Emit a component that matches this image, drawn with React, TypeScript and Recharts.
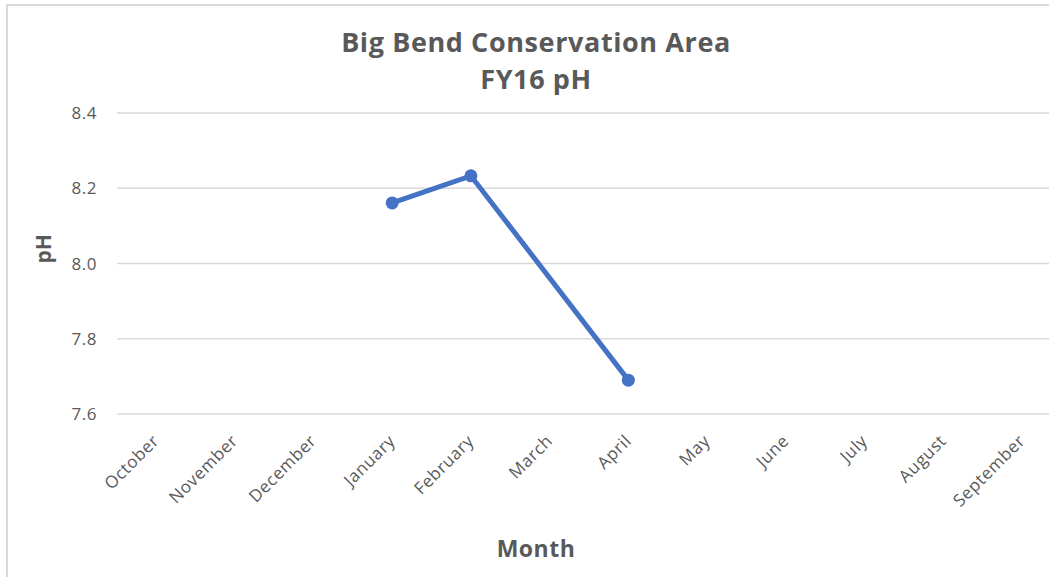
import { CartesianGrid, Label, Line, LineChart, XAxis, YAxis } from "recharts";

const MONTHS = [
  "October",
  "November",
  "December",
  "January",
  "February",
  "March",
  "April",
  "May",
  "June",
  "July",
  "August",
  "September",
];
const PH_VALUES: (number | null)[] = [null, null, null, 8.161, 8.233, null, 7.69, null, null, null, null, null];
const Y_TICKS = [7.6, 7.8, 8.0, 8.2, 8.4];

const TITLE = "Big Bend Conservation Area";
const SUBTITLE = "FY16 pH";

const chartData = MONTHS.map((month, i) => ({ month, ph: PH_VALUES[i] }));

const TEXT_COLOR = "#595959";
const LINE_COLOR = "#4472C4";

function MonthTick(props: any) {
  const { x, payload } = props;
  return (
    <g transform={`translate(${x + 4},442)`}>
      <text transform="rotate(-45)" textAnchor="end" fill={TEXT_COLOR} fontSize={17} letterSpacing={0.6}>
        {payload.value}
      </text>
    </g>
  );
}

export default function App() {
  return (
    <div
      style={{
        position: "fixed",
        left: 0,
        top: 0,
        width: 1049,
        height: 577,
        overflow: "hidden",
        background: "#fff",
        fontFamily: "'Open Sans', sans-serif",
      }}
    >
      <div
        style={{
          position: "absolute",
          left: 6,
          top: 4,
          width: 1100,
          height: 600,
          borderLeft: "2px solid #d9d9d9",
          borderTop: "2px solid #d9d9d9",
        }}
      />
      <div
        style={{
          position: "absolute",
          left: 0,
          width: 1072,
          top: 23,
          textAlign: "center",
          fontWeight: 700,
          fontSize: 27,
          lineHeight: "37px",
          letterSpacing: 0.6,
          color: TEXT_COLOR,
        }}
      >
        <div>{TITLE}</div>
        <div>{SUBTITLE}</div>
      </div>
      <div style={{ position: "absolute", left: 0, top: 0 }}>
        <LineChart
          width={1061}
          height={577}
          data={chartData}
          margin={{ top: 113, right: 0, bottom: 0, left: 0 }}
        >
          <CartesianGrid vertical={false} stroke="#d9d9d9" strokeWidth={1.5} />
          <XAxis
            dataKey="month"
            interval={0}
            height={163}
            padding={{ left: 39, right: 39 }}
            axisLine={false}
            tickLine={false}
            tickSize={0}
            tick={<MonthTick />}
          >
            <Label
              value="Month"
              position="insideBottom"
              offset={20}
              dx={-53}
              fill={TEXT_COLOR}
              fontSize={23}
              fontWeight={700}
              letterSpacing={0.5}
            />
          </XAxis>
          <YAxis
            width={117}
            domain={[7.6, 8.4]}
            ticks={Y_TICKS}
            axisLine={false}
            tickLine={false}
            tickSize={0}
            tickMargin={20}
            tickFormatter={(v: number) => v.toFixed(1)}
            tick={{ fill: TEXT_COLOR, fontSize: 17, letterSpacing: 0.5 }}
          >
            <Label
              value="pH"
              angle={-90}
              position="insideLeft"
              offset={44}
              fill={TEXT_COLOR}
              fontSize={21}
              fontWeight={700}
            />
          </YAxis>
          <Line
            dataKey="ph"
            stroke={LINE_COLOR}
            strokeWidth={5}
            connectNulls
            dot={{ r: 6.5, fill: LINE_COLOR, stroke: LINE_COLOR, strokeWidth: 0 }}
            isAnimationActive={false}
          />
        </LineChart>
      </div>
    </div>
  );
}
